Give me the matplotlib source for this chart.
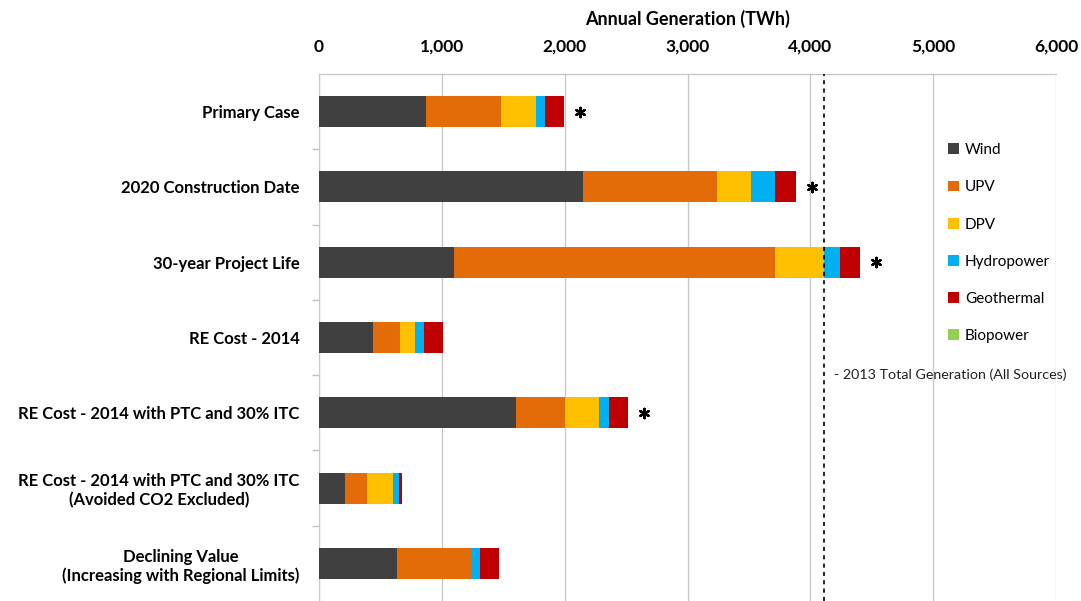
import matplotlib.pyplot as plt
import matplotlib.ticker as ticker
import numpy as np

# 各情景的分类标签
cases = ["Primary Case",
         "2020 Construction Date",
         "30-year Project Life",
         "RE Cost - 2014",
         "RE Cost - 2014 with PTC and 30% ITC",
         "RE Cost - 2014 with PTC and 30% ITC\n(Avoided CO2 Excluded)",
         "Declining Value\n(Increasing with Regional Limits)"]

# 各技术的年发电量 (TWh)
wind = [871, 2147, 1100, 441, 1600, 210, 634]
upv = [607, 1089, 2614, 218, 400, 179, 613]
dpv = [285, 280, 395, 125, 283, 213, 0]
hydropower = [79, 193, 136, 73, 76, 46, 65]
geothermal = [156, 177, 161, 155, 156, 30, 155]
biopower = [0, 0, 0, 0, 0, 0, 0]

starred = [True, True, True, False, True, False, False]
total_2013 = 4110

series = [("Wind", wind, "#404040"),
          ("UPV", upv, "#E36C09"),
          ("DPV", dpv, "#FFC000"),
          ("Hydropower", hydropower, "#00B0F0"),
          ("Geothermal", geothermal, "#C00000"),
          ("Biopower", biopower, "#92D050")]

plt.rcParams['font.family'] = ['Lato', 'DejaVu Sans']

fig = plt.figure(figsize=(10.81, 6.01), dpi=100)
ax = fig.add_axes([0.2951, 0.0, 0.6818, 0.8769])

y_pos = np.arange(len(cases))
left = np.zeros(len(cases))
for name, vals, color in series:
    ax.barh(y_pos, vals, left=left, height=0.41, color=color, label=name, zorder=3)
    left = left + np.array(vals)

# 星号标记
star_idx = [i for i, flag in enumerate(starred) if flag]
ax.scatter(left[star_idx] + 130, y_pos[star_idx], marker=(6, 2, 0), s=45,
           color='black', linewidths=1.7, zorder=4)

# 2013 年总发电量参考线
ax.axvline(total_2013, color='black', ls=(0, (2.5, 2.5)), lw=1.2, zorder=4)
ax.text(total_2013 + 80, 3.5, "- 2013 Total Generation (All Sources)",
        fontsize=10.3, ha='left', va='center', color='#222222')

ax.set_xlim(0, 6000)
ax.set_ylim(6.5, -0.5)
ax.xaxis.tick_top()
ax.xaxis.set_label_position('top')
ax.xaxis.set_major_locator(ticker.MultipleLocator(1000))
ax.xaxis.set_major_formatter(ticker.FuncFormatter(lambda v, p: "{:,.0f}".format(v)))
ax.tick_params(axis='x', length=0, pad=14, labelsize=12.5)
for lab in ax.get_xticklabels():
    lab.set_fontweight('bold')
ax.set_xlabel("Annual Generation (TWh)", fontsize=13, fontweight='bold', labelpad=10)

ax.set_yticks(y_pos)
ax.set_yticklabels(cases, fontsize=12, fontweight='bold', multialignment='center')
ax.tick_params(axis='y', which='major', length=0, pad=14)
ax.yaxis.set_minor_locator(ticker.FixedLocator(np.arange(0.5, len(cases) - 1, 1.0)))
ax.tick_params(axis='y', which='minor', length=5, color='#bfbfbf', width=1)

ax.grid(True, axis='x', color='#c8c8c8', lw=1, zorder=0)
for side in ['right', 'bottom']:
    ax.spines[side].set_visible(False)
ax.spines['top'].set_color('#bfbfbf')
ax.spines['left'].set_color('#c8c8c8')

leg = ax.legend(loc='upper left', bbox_to_anchor=(0.835, 0.895), frameon=False,
                fontsize=11, handlelength=0.7, handleheight=0.7,
                handletextpad=0.4, labelspacing=1.52)

fig.savefig("out.png", dpi=100)
